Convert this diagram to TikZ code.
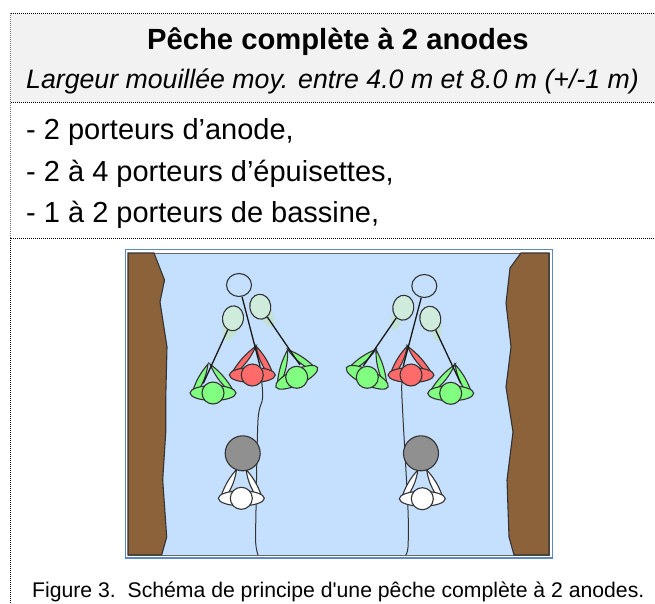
\documentclass[tikz,border=0pt]{standalone}
\usepackage{fontspec}
\setmainfont{Liberation Sans}
\newfontfamily\legende{Liberation Sans}
\usetikzlibrary{shapes.geometric}
\definecolor{eau}{HTML}{C5E0FF}
\definecolor{berge}{HTML}{8B6239}
\definecolor{trait}{HTML}{333333}
\definecolor{cadre}{HTML}{5B8AC6}
\definecolor{filet}{HTML}{CEEBDC}
\definecolor{ombre}{HTML}{C2E2D3}
\definecolor{vert}{HTML}{80FF80}
\definecolor{rouge}{HTML}{FF6B6B}
\definecolor{bassine}{HTML}{909090}

\begin{document}
\begin{tikzpicture}[
  x=1pt, y=-1pt,
  pointille/.style={dash pattern=on 1pt off 1pt, line width=1pt},
  rive/.style={draw=trait, line width=1.1pt, fill=berge},
  corps/.style={draw=trait, line width=1.1pt},
  epuisette/.style={corps, ellipse, fill=filet, minimum width=21pt, minimum height=25pt, inner sep=0pt},
  manche/.style={line width=1.3pt, black!90},
  cable/.style={line width=1pt, trait},
  ligne/.style={anchor=base west, inner sep=0pt, font=\fontsize{29}{34}\selectfont},
  pics/porteur/.style n args={3}{code={
    \draw[corps, fill=#3] (-20,-3) to[bend left=10] (#1,-29) to[bend left=10] (-13,-5) -- cycle;
    \draw[corps, fill=#3] (#2,-29) to[bend left=10] (20,-3) -- (13,-5) to[bend left=10] (#2,-29) -- cycle;
    \draw[corps, fill=#3] (0,0) ellipse [x radius=23pt, y radius=7.5pt];
    \node[corps, circle, fill=#3, minimum size=22pt, inner sep=0pt] (-tete) at (0,0) {};
  }}
]
\useasboundingbox (0,0) rectangle (655,603);

% bandeau du titre et filets
\fill[black!5] (11,14) rectangle (655,102);
\draw[pointille, black!55] (10.5,13) -- (10.5,238);
\draw[pointille] (10.5,238) -- (10.5,603);
\draw[pointille] (10.5,13) -- (655,13);
\draw[pointille] (10.5,102.5) -- (655,102.5);
\draw[pointille] (10.5,238) -- (655,238);

\node[anchor=base west, inner sep=0pt, font=\fontsize{29.2}{34}\selectfont\bfseries] (titre) at (147,49) {Pêche complète à 2 anodes};
\node[anchor=base west, inner sep=0pt, font=\fontsize{26.7}{31}\selectfont\itshape] (largeur) at (26,88) {Largeur mouillée moy. entre 4.0 m et 8.0 m (+/-1 m)};
\node[ligne] (anode) at (26,139) {- 2 porteurs d’anode,};
\node[ligne] (epuis) at (26,181) {- 2 à 4 porteurs d’épuisettes,};
\node[ligne] (bass) at (26,222) {- 1 à 2 porteurs de bassine,};
\node[anchor=base west, inner sep=0pt, font=\fontsize{21.2}{25}\legende] (figure) at (32,597) {Figure 3.\ \ Schéma de principe d'une pêche complète à 2 anodes.};

% la riviere
\draw[cadre, line width=1.5pt, fill=white] (125.5,249.5) rectangle (552.5,558);
\draw[fill=eau, draw=black!60, line width=1pt] (128,253) rectangle (549,555);
\draw[rive] (128,253) -- (154,253) -- (164.5,280) -- (160,302) -- (167,347) -- (165.7,400) -- (165.7,433)
  -- (162.7,480) -- (166.7,537) -- (161.7,555) -- (128,555) -- cycle;
\draw[rive] (549,253) -- (521,253) -- (510,268) -- (506,303) -- (511,347) -- (506,387) -- (508,400) -- (513,432)
  -- (507,480) -- (509,537) -- (514,555) -- (549,555) -- cycle;

% cables des anodes
\draw[cable] plot[smooth] coordinates {(260,366) (262.7,397) (258,420) (256,510) (255.7,543) (258,555)};
\draw[cable] plot[smooth] coordinates {(403.3,366) (401.7,387) (403,418) (408,510) (408,547) (405.7,555)};

% poches des epuisettes
\fill[ombre] (222.7,320) .. controls (222,332) and (224,340) .. (226.7,342.7) .. controls (231,338) and (235,336) .. (238.3,330) -- cycle;
\fill[ombre] (271.7,310) .. controls (274,316) and (275,322) .. (274,327) .. controls (270,329) and (266,325) .. (260,317) -- cycle;
\fill[ombre] (391.7,315) .. controls (390,322) and (391,328) .. (393.3,330) .. controls (396,330) and (400,326) .. (401.7,323) -- cycle;
\fill[ombre] (430,328) .. controls (433,335) and (435,341) .. (438.3,343.3) .. controls (441,338) and (442,328) .. (441.7,320) -- cycle;

% porteurs
\pic (vertA) at (213,393) {porteur={-5}{-3}{vert}};
\pic (rougeG) at (252.3,375) {porteur={3.7}{3.7}{rouge}};
\pic[rotate=25] (vertB) at (296.7,377.3) {porteur={3.6}{3.6}{vert}};
\pic[rotate=-25] (vertC) at (367.3,377.3) {porteur={-4}{-4}{vert}};
\pic (rougeD) at (411,375) {porteur={-3.7}{-3.7}{rouge}};
\pic (vertD) at (450.7,393.3) {porteur={4.3}{4.3}{vert}};
\pic (blancG) at (241.3,498.3) {porteur={-4.7}{4.7}{white}};
\pic (blancD) at (422.3,498.7) {porteur={-4.3}{4.3}{white}};

\node[corps, circle, fill=bassine, minimum size=35pt, inner sep=0pt] (bassineG) at (242.7,453.3) {};
\node[corps, circle, fill=bassine, minimum size=35pt, inner sep=0pt] (bassineD) at (421,453.3) {};

% anodes et epuisettes
\node[corps, ellipse, fill=none, minimum width=25pt, minimum height=23pt, inner sep=0pt] (anodeG) at (239,285) {};
\node[corps, ellipse, fill=none, minimum width=25pt, minimum height=23pt, inner sep=0pt] (anodeD) at (424.3,286) {};
\node[epuisette, rotate=-8] (filetA) at (233,318.3) {};
\node[epuisette, rotate=8] (filetB) at (260.3,306.7) {};
\node[epuisette, rotate=-8] (filetC) at (403.3,307.7) {};
\node[epuisette, rotate=8] (filetD) at (430.3,318.7) {};

\coordinate (mainA) at (203.3,383.3);
\coordinate (mainB) at (300,365);
\coordinate (mainC) at (363.3,366);
\coordinate (mainD) at (460.7,383.3);
\coordinate (mainG) at (260,366);
\coordinate (mainR) at (403.3,366);

\draw[manche] (filetA) -- (mainA);
\draw[manche] (filetB) -- (mainB);
\draw[manche] (filetC) -- (mainC);
\draw[manche] (filetD) -- (mainD);
\draw[manche] (anodeG) -- (mainG);
\draw[manche] (anodeD) -- (mainR);
\end{tikzpicture}
\end{document}
